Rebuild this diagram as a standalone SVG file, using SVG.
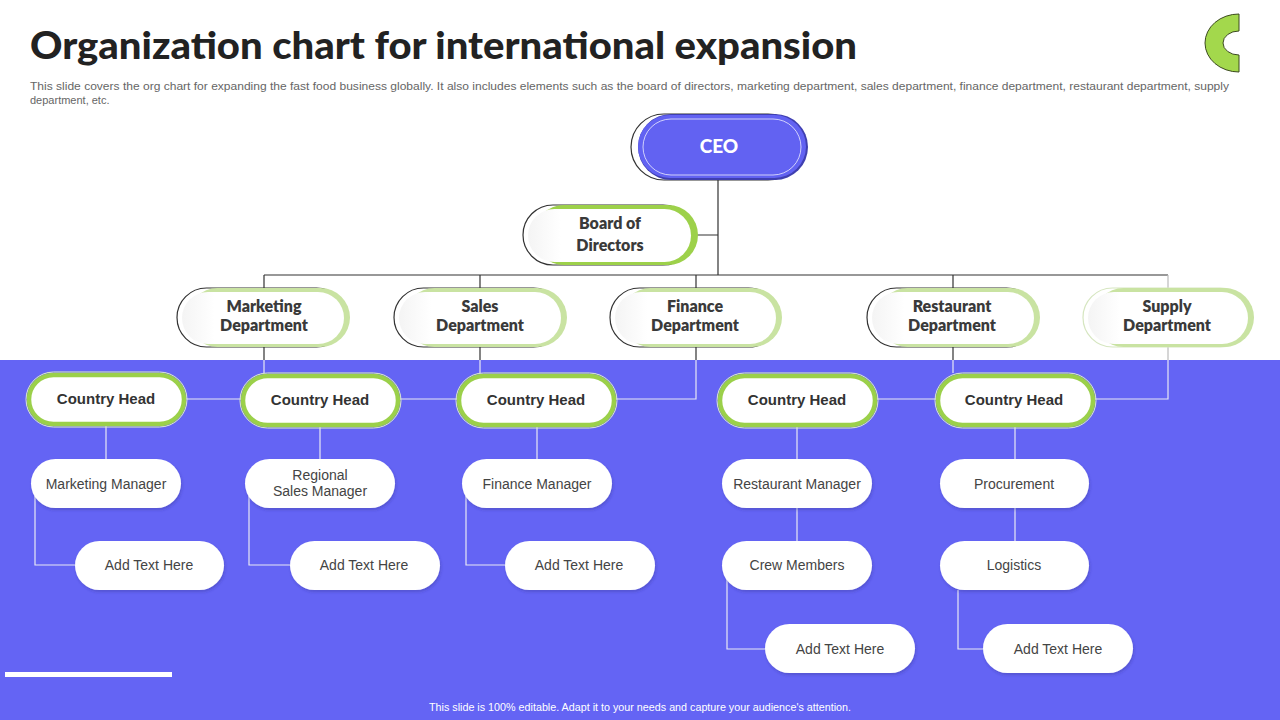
<svg xmlns="http://www.w3.org/2000/svg" width="1280" height="720" viewBox="0 0 1280 720">
<defs>
<style>
.title{font-family:"Lato","Liberation Sans",sans-serif;font-weight:900;font-size:37px;fill:#222;}
.sub{font-family:"Liberation Sans",Arial,sans-serif;font-size:11px;fill:#666;}
.foot{font-family:"Liberation Sans",Arial,sans-serif;font-size:10px;fill:#fff;}
.hd{font-family:"Lato","Liberation Sans",sans-serif;font-weight:800;font-size:16px;fill:#3a3a3a;text-anchor:middle;}
.ceo{font-family:"Lato","Liberation Sans",sans-serif;font-weight:900;font-size:19px;fill:#fff;text-anchor:middle;}
.ch{font-family:"Liberation Sans",Arial,sans-serif;font-weight:bold;font-size:15px;fill:#333;text-anchor:middle;}
.lb{font-family:"Liberation Sans",Arial,sans-serif;font-size:14px;fill:#444;text-anchor:middle;}
.dk{stroke:#333;stroke-width:1.2;fill:none;}
.lt{stroke:#e8e8f4;stroke-width:1.2;fill:none;}
.pill{fill:#fff;filter:url(#sh);}
.chp{fill:#fff;stroke:#9bd04a;stroke-width:4.5;}
.cho{fill:none;stroke:#dfeccb;stroke-width:1;}
</style>
<filter id="sh" x="-10%" y="-20%" width="125%" height="150%">
<feDropShadow dx="1" dy="2" stdDeviation="1.8" flood-color="#2a2a80" flood-opacity="0.3"/>
</filter>
<linearGradient id="wg" x1="0" y1="0" x2="1" y2="0">
<stop offset="0" stop-color="#f4f4f4"/>
<stop offset="0.2" stop-color="#ffffff"/>
</linearGradient>
</defs>

<rect x="0" y="0" width="1280" height="720" fill="#fff"/>
<rect x="0" y="360" width="1280" height="360" fill="#6464f4"/>
<rect x="5" y="672" width="167" height="5" fill="#fff"/>

<text class="title" x="30" y="59" textLength="827" lengthAdjust="spacingAndGlyphs">Organization chart for international expansion</text>
<text class="sub" x="30" y="90" textLength="1199" lengthAdjust="spacingAndGlyphs">This slide covers the org chart for expanding the fast food business globally. It also includes elements such as the board of directors, marketing department, sales department, finance department, restaurant department, supply</text>
<text class="sub" x="30" y="104">department, etc.</text>

<path d="M1239,14 A34,29 0 0 0 1239,72 L1239,55 A16,12 0 0 1 1239,31 Z" fill="#a3d84c" stroke="#3b4a1e" stroke-width="1"/>

<text class="foot" x="429" y="711" textLength="422" lengthAdjust="spacingAndGlyphs">This slide is 100% editable.  Adapt it to your needs and capture your audience's attention.</text>

<g id="connectors">
<path class="dk" d="M718,180 V275 M697,235 H718 M264,275 H1168 M264,275 V288 M480,275 V288 M696,275 V288 M953,275 V288"/>
<path d="M1168,275 V288" stroke="#bbb" stroke-width="1.2" fill="none"/>
<path class="dk" d="M264,347 V360 M480,347 V360 M696,347 V360 M953,347 V360"/>
<path d="M1168,347 V360" stroke="#bbb" stroke-width="1.2" fill="none"/>
<path class="lt" d="M264,360 V373 M480,360 V373 M953,360 V373 M696,360 V399 H615 M1168,360 V399 H1094"/>
<path class="lt" d="M186,399 H241 M399,399 H457 M876,399 H936"/>
<path class="lt" d="M106,426 V459 M320,426 V459 M537,426 V459 M797,426 V459 M1015,426 V459"/>
<path class="lt" d="M35,496 V565 H75 M249,496 V565 H290 M466,496 V565 H505"/>
<path class="lt" d="M797,508 V541 M1015,508 V541"/>
<path class="lt" d="M727,578 V649 H765 M958,590 V649 H983"/>
</g>

<g id="ceo">
<rect x="631" y="114" width="170" height="66" rx="33" fill="#fff" stroke="#333" stroke-width="1.2"/>
<rect x="638" y="114" width="170" height="66" rx="33" fill="#3f3fb0"/>
<rect x="638" y="115" width="168" height="63" rx="31.5" fill="#6262f2"/>
<rect x="643" y="119" width="158" height="56" rx="28" fill="none" stroke="#fff" stroke-width="1" opacity="0.7"/>
<text class="ceo" x="719" y="153">CEO</text>
</g>

<g id="board">
<rect x="523" y="205" width="170" height="60" rx="30" fill="#fff" stroke="#333" stroke-width="1.2"/>
<rect x="534" y="205" width="164" height="60" rx="30" fill="#9dd14a"/>
<rect x="528" y="209" width="163" height="53" rx="26.5" fill="url(#wg)"/>
<text class="hd" x="610" y="229" font-size="17">Board of</text>
<text class="hd" x="610" y="251" font-size="17">Directors</text>
</g>

<g id="dept-marketing">
<rect x="177" y="288" width="169" height="59" rx="29.5" fill="#fff" stroke="#333" stroke-width="1.2"/>
<rect x="188" y="288" width="162" height="59" rx="29.5" fill="#c9e3a2"/>
<rect x="182" y="292" width="162" height="52" rx="26" fill="url(#wg)"/>
<text class="hd" x="264" y="312" font-size="15">Marketing</text>
<text class="hd" x="264" y="331" font-size="15">Department</text>
</g>

<g id="dept-sales">
<rect x="394" y="288" width="169" height="59" rx="29.5" fill="#fff" stroke="#333" stroke-width="1.2"/>
<rect x="405" y="288" width="162" height="59" rx="29.5" fill="#c9e3a2"/>
<rect x="399" y="292" width="162" height="52" rx="26" fill="url(#wg)"/>
<text class="hd" x="480" y="312" font-size="15">Sales</text>
<text class="hd" x="480" y="331" font-size="15">Department</text>
</g>

<g id="dept-finance">
<rect x="610" y="288" width="168" height="59" rx="29.5" fill="#fff" stroke="#333" stroke-width="1.2"/>
<rect x="621" y="288" width="161" height="59" rx="29.5" fill="#c9e3a2"/>
<rect x="615" y="292" width="161" height="52" rx="26" fill="url(#wg)"/>
<text class="hd" x="695" y="312" font-size="15">Finance</text>
<text class="hd" x="695" y="331" font-size="15">Department</text>
</g>

<g id="dept-restaurant">
<rect x="867" y="288" width="169" height="59" rx="29.5" fill="#fff" stroke="#333" stroke-width="1.2"/>
<rect x="878" y="288" width="162" height="59" rx="29.5" fill="#c9e3a2"/>
<rect x="872" y="292" width="162" height="52" rx="26" fill="url(#wg)"/>
<text class="hd" x="952" y="312" font-size="15">Restaurant</text>
<text class="hd" x="952" y="331" font-size="15">Department</text>
</g>

<g id="dept-supply">
<rect x="1083" y="288" width="167" height="59" rx="29.5" fill="#fff" stroke="#d6e6c0" stroke-width="1.2"/>
<rect x="1094" y="288" width="160" height="59" rx="29.5" fill="#c9e3a2"/>
<rect x="1088" y="292" width="160" height="52" rx="26" fill="url(#wg)"/>
<text class="hd" x="1167" y="312" font-size="15">Supply</text>
<text class="hd" x="1167" y="331" font-size="15">Department</text>
</g>

<g id="ch1"><rect class="cho" x="26" y="372" width="161" height="55" rx="27.5"/><rect class="chp" x="29" y="375" width="155" height="49" rx="24.5"/><text class="ch" x="106" y="404">Country Head</text></g>
<g id="ch2"><rect class="cho" x="240" y="373" width="161" height="55" rx="27.5"/><rect class="chp" x="243" y="376" width="155" height="49" rx="24.5"/><text class="ch" x="320" y="405">Country Head</text></g>
<g id="ch3"><rect class="cho" x="456" y="373" width="161" height="55" rx="27.5"/><rect class="chp" x="459" y="376" width="155" height="49" rx="24.5"/><text class="ch" x="536" y="405">Country Head</text></g>
<g id="ch4"><rect class="cho" x="717" y="373" width="161" height="55" rx="27.5"/><rect class="chp" x="720" y="376" width="155" height="49" rx="24.5"/><text class="ch" x="797" y="405">Country Head</text></g>
<g id="ch5"><rect class="cho" x="935" y="373" width="161" height="55" rx="27.5"/><rect class="chp" x="938" y="376" width="155" height="49" rx="24.5"/><text class="ch" x="1014" y="405">Country Head</text></g>

<g id="marketing-manager"><rect class="pill" x="31" y="459" width="150" height="49" rx="24.5"/><text class="lb" x="106" y="489">Marketing Manager</text></g>
<g id="regional-sales-manager"><rect class="pill" x="245" y="459" width="150" height="49" rx="24.5"/><text class="lb" x="320" y="480">Regional</text><text class="lb" x="320" y="496">Sales Manager</text></g>
<g id="finance-manager"><rect class="pill" x="462" y="459" width="150" height="49" rx="24.5"/><text class="lb" x="537" y="489">Finance Manager</text></g>
<g id="restaurant-manager"><rect class="pill" x="722" y="459" width="150" height="49" rx="24.5"/><text class="lb" x="797" y="489">Restaurant Manager</text></g>
<g id="procurement"><rect class="pill" x="940" y="459" width="149" height="49" rx="24.5"/><text class="lb" x="1014" y="489">Procurement</text></g>

<g id="add1"><rect class="pill" x="75" y="541" width="149" height="49" rx="24.5"/><text class="lb" x="149" y="570">Add Text  Here</text></g>
<g id="add2"><rect class="pill" x="290" y="541" width="150" height="49" rx="24.5"/><text class="lb" x="364" y="570">Add Text  Here</text></g>
<g id="add3"><rect class="pill" x="505" y="541" width="150" height="49" rx="24.5"/><text class="lb" x="579" y="570">Add Text  Here</text></g>
<g id="crew-members"><rect class="pill" x="722" y="541" width="150" height="49" rx="24.5"/><text class="lb" x="797" y="570">Crew  Members</text></g>
<g id="logistics"><rect class="pill" x="940" y="541" width="149" height="49" rx="24.5"/><text class="lb" x="1014" y="570">Logistics</text></g>
<g id="add4"><rect class="pill" x="765" y="624" width="150" height="49" rx="24.5"/><text class="lb" x="840" y="654">Add Text  Here</text></g>
<g id="add5"><rect class="pill" x="983" y="624" width="150" height="49" rx="24.5"/><text class="lb" x="1058" y="654">Add Text  Here</text></g>
</svg>
